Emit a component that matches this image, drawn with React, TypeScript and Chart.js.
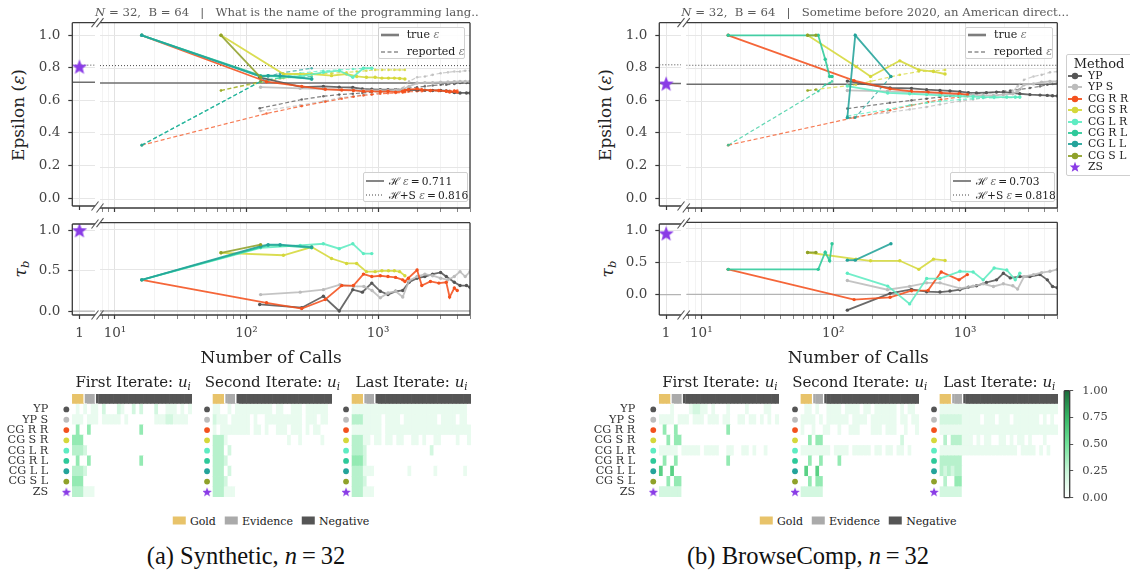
import React, { useEffect, useRef } from 'react';
import { Chart, registerables } from 'chart.js';

Chart.register(...registerables);

const SERIF = '"DejaVu Serif", "Liberation Serif", serif';
const CAPTION_SERIF = '"Liberation Serif", "Times New Roman", serif';
const INK = '#3a3a3a';
const TICK_INK = '#444444';

// ---------- methods ----------
const methodNames = ['YP', 'YP S', 'CG R R', 'CG S R', 'CG L R', 'CG R L', 'CG L L', 'CG S L', 'ZS'];
const methodColors = ['#555555', '#bcbcbc', '#f4511e', '#d5d83a', '#5eecc2', '#2ec99a', '#23a39a', '#8fa12a', '#8a3ce6'];

// ---------- axes ----------
const epsRange = [-0.0486, 1.0765];
const epsTicks = [0, 0.2, 0.4, 0.6, 0.8, 1.0];
const tauTicks = [0, 0.5, 1.0];
const synTauRange = [-0.049, 1.077];
const browseTauRange = [-0.314, 1.095];
const zsCallRange = [0.7, 1.65];
const zsCalls = [1];
const callRange = [7.7, 5000];
const callTicks = [8, 9, 10, 20, 30, 40, 50, 60, 70, 80, 90, 100, 200, 300, 400, 500, 600, 700, 800, 900, 1000, 2000, 3000, 4000, 5000];
const decadeLabels: Record<number, string> = { 10: '10\u00b9', 100: '10\u00b2', 1000: '10\u00b3' };

// ---------- (a) Synthetic ----------
const synHLines = [0.711, 0.816];
const synZsEps = 0.807;
const synZsTau = 1.0;

const synCallsYP = [126, 263, 384, 507, 643, 760, 896, 1040, 1190, 1360, 1540, 1720, 1980, 2270, 2600, 2990, 3300, 3800, 4200, 4700, 5000];
const synTrueYP = [0.745, 0.685, 0.69, 0.685, 0.683, 0.675, 0.672, 0.67, 0.67, 0.67, 0.67, 0.668, 0.668, 0.667, 0.665, 0.665, 0.662, 0.652, 0.65, 0.65, 0.65];
const synRepYP = [0.557, 0.61, 0.63, 0.64, 0.645, 0.65, 0.655, 0.66, 0.665, 0.67, 0.675, 0.68, 0.685, 0.69, 0.695, 0.7, 0.7, 0.705, 0.71, 0.71, 0.71];
const synTauYP = [0.08, 0.04, 0.18, 0.0, 0.26, 0.23, 0.34, 0.24, 0.2, 0.24, 0.25, 0.35, 0.4, 0.42, 0.45, 0.47, 0.42, 0.35, 0.31, 0.31, 0.29];

const synCallsYPS = [128, 256, 384, 514, 650, 780, 900, 1040, 1190, 1360, 1540, 1720, 1980, 2270, 2600, 2990, 3400, 3800, 4200, 4600, 5000];
const synTrueYPS = [0.685, 0.678, 0.675, 0.67, 0.668, 0.665, 0.665, 0.665, 0.665, 0.668, 0.672, 0.69, 0.71, 0.712, 0.712, 0.715, 0.716, 0.718, 0.72, 0.72, 0.72];
const synRepYPS = [0.54, 0.575, 0.6, 0.62, 0.63, 0.64, 0.645, 0.65, 0.66, 0.67, 0.68, 0.72, 0.745, 0.75, 0.76, 0.77, 0.775, 0.78, 0.78, 0.785, 0.785];
const synTauYPS = [0.2, 0.23, 0.26, 0.32, 0.3, 0.3, 0.25, 0.16, 0.22, 0.24, 0.17, 0.37, 0.42, 0.45, 0.43, 0.4, 0.38, 0.42, 0.48, 0.42, 0.48];

const synCallsRR = [16, 142, 263, 397, 530, 650, 775, 896, 1040, 1190, 1360, 1540, 1600, 1700, 1980, 2150, 2500, 2900, 3300, 3500, 3800, 4000];
const synTrueRR = [1.0, 0.718, 0.69, 0.672, 0.668, 0.665, 0.66, 0.66, 0.658, 0.66, 0.655, 0.66, 0.665, 0.67, 0.675, 0.67, 0.665, 0.665, 0.66, 0.655, 0.66, 0.655];
const synRepRR = [0.333, 0.525, 0.57, 0.597, 0.615, 0.627, 0.635, 0.64, 0.645, 0.648, 0.65, 0.652, 0.655, 0.657, 0.66, 0.66, 0.662, 0.662, 0.663, 0.663, 0.664, 0.664];
const synTauRR = [0.38, 0.1, 0.03, 0.14, 0.31, 0.31, 0.45, 0.42, 0.43, 0.42, 0.41, 0.38, 0.36, 0.4, 0.5, 0.31, 0.36, 0.34, 0.35, 0.17, 0.28, 0.25];

const synCallsSR = [64, 191, 313, 443, 576, 688, 816, 950, 1070, 1200, 1330, 1460, 1600];
const synTrueSR = [1.0, 0.765, 0.765, 0.755, 0.765, 0.75, 0.745, 0.745, 0.74, 0.74, 0.74, 0.738, 0.735];
const synRepSR = [0.665, 0.74, 0.765, 0.77, 0.775, 0.78, 0.785, 0.79, 0.79, 0.79, 0.79, 0.79, 0.79];
const synTauSR = [0.71, 0.68, 0.78, 0.64, 0.58, 0.58, 0.48, 0.48, 0.49, 0.49, 0.49, 0.48, 0.43];

const synCallsLR = [16, 128, 256, 384, 507, 643, 774, 896];
const synTrueLR = [1.0, 0.75, 0.75, 0.775, 0.785, 0.745, 0.8, 0.8];
const synRepLR = [0.333, 0.72, 0.77, 0.785, 0.79, 0.795, 0.8, 0.8];
const synTauLR = [0.38, 0.77, 0.8, 0.82, 0.76, 0.82, 0.7, 0.7];

const synCallsRL = [16, 128, 146, 180, 313];
const synTrueRL = [1.0, 0.755, 0.755, 0.75, 0.735];
const synRepRL = [0.333, 0.72, 0.73, 0.74, 0.75];
const synTauRL = [0.38, 0.78, 0.8, 0.8, 0.77];

const synCallsLL = [16, 128, 146, 180, 313];
const synTrueLL = [1.0, 0.75, 0.755, 0.755, 0.735];
const synRepLL = [0.333, 0.72, 0.75, 0.77, 0.8];
const synTauLL = [0.38, 0.79, 0.81, 0.81, 0.78];

const synCallsSL = [64, 128];
const synTrueSL = [1.0, 0.745];
const synRepSL = [0.665, 0.72];
const synTauSL = [0.71, 0.81];

// ---------- (b) BrowseComp ----------
const browseHLines = [0.703, 0.818];
const browseZsEps = 0.703;
const browseZsTau = 0.95;

const brCallsYP = [128, 270, 392, 511, 645, 768, 914, 1060, 1220, 1450, 1730, 1950, 2200, 2600, 3100, 3700, 4200, 4600, 5000];
const brTrueYP = [0.722, 0.68, 0.678, 0.67, 0.665, 0.662, 0.658, 0.652, 0.65, 0.652, 0.655, 0.655, 0.652, 0.645, 0.64, 0.637, 0.635, 0.633, 0.632];
const brRepYP = [0.555, 0.59, 0.605, 0.615, 0.625, 0.632, 0.638, 0.64, 0.645, 0.65, 0.655, 0.66, 0.665, 0.672, 0.68, 0.69, 0.7, 0.705, 0.71];
const brTauYP = [-0.24, 0.015, 0.075, 0.04, 0.035, 0.05, 0.07, 0.11, 0.13, 0.18, 0.22, 0.32, 0.25, 0.27, 0.27, 0.3, 0.22, 0.12, 0.1];

const brCallsYPS = [128, 258, 380, 511, 645, 914, 1150, 1370, 1640, 1950, 2300, 2500, 2800, 3300, 3800, 4400, 5000];
const brTrueYPS = [0.665, 0.66, 0.655, 0.65, 0.645, 0.64, 0.638, 0.635, 0.635, 0.64, 0.645, 0.66, 0.7, 0.705, 0.715, 0.72, 0.72];
const brRepYPS = [0.5, 0.53, 0.55, 0.565, 0.58, 0.6, 0.61, 0.62, 0.63, 0.645, 0.66, 0.69, 0.73, 0.75, 0.76, 0.775, 0.78];
const brTauYPS = [0.21, 0.07, 0.12, 0.175, 0.175, 0.09, 0.125, 0.16, 0.12, 0.16, 0.13, 0.08, 0.27, 0.3, 0.33, 0.35, 0.38];

const brCallsRR = [16, 144, 270, 392, 524, 659, 900, 1040];
const brTrueRR = [1.0, 0.725, 0.675, 0.66, 0.655, 0.65, 0.645, 0.64];
const brRepRR = [0.333, 0.5, 0.545, 0.575, 0.595, 0.61, 0.625, 0.63];
const brTauRR = [0.38, -0.08, -0.045, 0.055, 0.06, 0.34, 0.22, 0.3];

const brCallsSR = [64, 149, 192, 320, 446, 576, 705];
const brTrueSR = [1.0, 0.81, 0.75, 0.845, 0.79, 0.78, 0.765];
const brRepSR = [0.665, 0.7, 0.72, 0.76, 0.78, 0.785, 0.79];
const brTauSR = [0.636, 0.535, 0.51, 0.51, 0.38, 0.535, 0.515];

const brCallsLR = [128, 259, 380, 511, 645, 914, 1150, 1370, 1660, 2070, 2400, 2600];
const brTrueLR = [0.692, 0.65, 0.645, 0.64, 0.635, 0.63, 0.628, 0.625, 0.625, 0.625, 0.625, 0.625];
const brRepLR = [0.51, 0.55, 0.575, 0.59, 0.6, 0.61, 0.615, 0.62, 0.62, 0.622, 0.622, 0.623];
const brTauLR = [0.32, 0.125, -0.145, 0.24, 0.24, 0.35, 0.34, 0.22, 0.4, 0.37, 0.22, 0.32];

const brCallsRL = [16, 77, 87, 94, 98];
const brTrueRL = [1.0, 1.0, 0.855, 0.75, 0.75];
const brRepRL = [0.333, 0.66, 0.7, 0.71, 0.72];
const brTauRL = [0.38, 0.38, 0.64, 0.51, 0.77];

const brCallsLL = [128, 147, 274];
const brTrueLL = [0.5, 1.0, 0.75];
const brRepLL = [0.5, 0.5, 0.75];
const brTauLL = [0.52, 0.52, 0.77];

const brCallsSL = [64, 74];
const brTrueSL = [1.0, 1.0];
const brRepSL = [0.665, 0.67];
const brTauSL = [0.636, 0.636];

// ---------- document relevance heatmaps (one digit per document, tenths) ----------
const docGroupNames = ['Gold', 'Evidence', 'Negative'];
const docGroupSizes = [3, 3, 26];
const docGroupColors = ['#e8c36a', '#aaaaaa', '#555555'];

const synFirst = [
  '01010110 20002100 20200020 01110101',
  '11101110 11111010 00000011 12211110',
  '04004000 00000000 00400000 00000000',
  '44400000 00000000 00000000 00000000',
  '33320000 00000000 00000000 00000000',
  '04004000 00000000 00400000 00000000',
  '33320000 00000000 00000000 00000000',
  '44400000 00000000 00000000 00000000',
  '33311100 00000000 00000000 00000000',
];
const synSecond = [
  '11001011 11111111 01100111 01111110',
  '21110111 11010011 11111111 01110110',
  '10111111 11011010 01110111 01011000',
  '33310000 00000000 00001001 00000100',
  '33302000 00000000 00000000 00000000',
  '33320000 00000000 00000000 00000000',
  '33302000 00000000 00000000 00000000',
  '33320000 00000000 00000000 00000000',
  '33311100 00000000 00000000 00000000',
];
const synLast = [
  '11111111 11111111 11111111 11111110',
  '33311111 01111011 11111110 11110110',
  '11111111 01111111 11111111 11111111',
  '33311011 01101100 11010011 00001001',
  '33320000 00000000 00000200 00000000',
  '44420000 00000000 00000000 00000000',
  '33311100 00000001 00000010 00000010',
  '33320000 00000000 00000000 00000000',
  '33311100 00000000 00000000 00000000',
];
const browseFirst = [
  '00010000 12211010 00100001 00001100',
  '11110111 01110111 01100110 11010101',
  '04004000 00000000 00400000 00000000',
  '00404400 00000000 00000000 00000000',
  '11111011 11101111 00110011 01001000',
  '04004000 00000000 00400000 00000000',
  '60060000 00000000 00000000 00000000',
  '00404400 00000000 00000000 00000000',
  '22222200 00000000 00000000 00000000',
];
const browseSecond = [
  '01101001 11101111 01101111 11010110',
  '11110101 11111011 11011111 11011011',
  '10010011 00100111 00011101 11001001',
  '00404400 00000000 00000000 00020000',
  '11111111 01111011 11101101 10110100',
  '00400400 00400000 00000000 00000000',
  '06006000 00000000 00000000 00000000',
  '00404400 00000000 00000000 00000000',
  '22222200 00000000 00000000 00000000',
];
const browseLast = [
  '11111111 11111111 11111111 11111111',
  '22222211 11101110 11101111 11101010',
  '11111111 11111111 11111111 11111111',
  '03033311 10101100 11010110 10001000',
  '11111111 11111111 11111011 11010100',
  '33333300 00000000 00000000 00000000',
  '32323300 00000000 00000000 00000000',
  '03004400 00000000 00000000 00000000',
  '22222200 00000000 00000000 00000000',
];
const heatTitles = ['First Iterate: ', 'Second Iterate: ', 'Last Iterate: '];

// colour scale for relevance
const cmapStops = [0, 0.25, 0.5, 0.75, 1];
const cmapColors = ['#ffffff', '#c8f5d8', '#72e39a', '#36b665', '#1a6b3a'];
const cbarTicks = [0, 0.25, 0.5, 0.75, 1];

// heatmap axis settings
const heatColRange = [-3.2, 31.5];
const heatRowRange = [-1.5, 8.5];
const headerSpan = [-1.5, -0.58];
const markerCol = -2.11;

// ---------- series bundles ----------
type Series = { m: number; calls: number[]; eps: number[]; rep: number[]; tau: number[] };
const synSeries: Series[] = [
  { m: 0, calls: synCallsYP, eps: synTrueYP, rep: synRepYP, tau: synTauYP },
  { m: 1, calls: synCallsYPS, eps: synTrueYPS, rep: synRepYPS, tau: synTauYPS },
  { m: 2, calls: synCallsRR, eps: synTrueRR, rep: synRepRR, tau: synTauRR },
  { m: 3, calls: synCallsSR, eps: synTrueSR, rep: synRepSR, tau: synTauSR },
  { m: 4, calls: synCallsLR, eps: synTrueLR, rep: synRepLR, tau: synTauLR },
  { m: 5, calls: synCallsRL, eps: synTrueRL, rep: synRepRL, tau: synTauRL },
  { m: 6, calls: synCallsLL, eps: synTrueLL, rep: synRepLL, tau: synTauLL },
  { m: 7, calls: synCallsSL, eps: synTrueSL, rep: synRepSL, tau: synTauSL },
];
const browseSeries: Series[] = [
  { m: 0, calls: brCallsYP, eps: brTrueYP, rep: brRepYP, tau: brTauYP },
  { m: 1, calls: brCallsYPS, eps: brTrueYPS, rep: brRepYPS, tau: brTauYPS },
  { m: 2, calls: brCallsRR, eps: brTrueRR, rep: brRepRR, tau: brTauRR },
  { m: 3, calls: brCallsSR, eps: brTrueSR, rep: brRepSR, tau: brTauSR },
  { m: 4, calls: brCallsLR, eps: brTrueLR, rep: brRepLR, tau: brTauLR },
  { m: 5, calls: brCallsRL, eps: brTrueRL, rep: brRepRL, tau: brTauRL },
  { m: 6, calls: brCallsLL, eps: brTrueLL, rep: brRepLL, tau: brTauLL },
  { m: 7, calls: brCallsSL, eps: brTrueSL, rep: brRepSL, tau: brTauSL },
];

// ---------- helpers ----------
function rgba(hex: string, a: number) {
  const n = parseInt(hex.slice(1), 16);
  return `rgba(${(n >> 16) & 255},${(n >> 8) & 255},${n & 255},${a})`;
}

function colormap(v: number) {
  const t = Math.max(0, Math.min(1, v));
  let i = 0;
  while (i < cmapStops.length - 2 && t > cmapStops[i + 1]) i++;
  const f = (t - cmapStops[i]) / (cmapStops[i + 1] - cmapStops[i]);
  const a = parseInt(cmapColors[i].slice(1), 16);
  const b = parseInt(cmapColors[i + 1].slice(1), 16);
  const ch = (s: number) => Math.round(((a >> s) & 255) * (1 - f) + ((b >> s) & 255) * f);
  return `rgb(${ch(16)},${ch(8)},${ch(0)})`;
}

function makeStar(size: number, color: string) {
  const c = document.createElement('canvas');
  c.width = size;
  c.height = size;
  const g = c.getContext('2d') as CanvasRenderingContext2D;
  const cx = size / 2;
  const cy = size / 2 + size * 0.05;
  const R = size / 2;
  const r = R * 0.42;
  g.beginPath();
  for (let i = 0; i < 10; i++) {
    const a = -Math.PI / 2 + (i * Math.PI) / 5;
    const rad = i % 2 === 0 ? R : r;
    g.lineTo(cx + rad * Math.cos(a), cy + rad * Math.sin(a));
  }
  g.closePath();
  g.fillStyle = color;
  g.fill();
  return c;
}

function starPoints(cx: number, cy: number, R: number) {
  const pts: string[] = [];
  for (let i = 0; i < 10; i++) {
    const a = -Math.PI / 2 + (i * Math.PI) / 5;
    const rad = i % 2 === 0 ? R : R * 0.42;
    pts.push(`${(cx + rad * Math.cos(a)).toFixed(2)},${(cy + rad * Math.sin(a)).toFixed(2)}`);
  }
  return pts.join(' ');
}

type Area = { L: number; T: number; R: number; B: number };
type Margins = { l: number; t: number; r: number; b: number };

function place(area: Area, m: Margins, yW: number, xH: number, yRight = false) {
  const left = Math.floor(area.L - m.l);
  const top = Math.floor(area.T - m.t);
  const width = Math.ceil(area.R + m.r) - left;
  const height = Math.ceil(area.B + m.b) - top;
  const padding = {
    left: area.L - left - (yRight ? 0 : yW),
    top: area.T - top,
    right: left + width - area.R - (yRight ? yW : 0),
    bottom: top + height - area.B - xH,
  };
  return { box: { left, top, width, height }, padding };
}

function baseOptions(padding: any) {
  return {
    animation: false,
    responsive: false,
    maintainAspectRatio: false,
    events: [],
    layout: { padding },
    plugins: { legend: { display: false }, tooltip: { enabled: false }, title: { display: false } },
  };
}

function framePlugin(sides: string, brk: string) {
  return {
    id: 'frame',
    afterDraw(chart: any) {
      const { ctx, chartArea: a } = chart;
      ctx.save();
      ctx.strokeStyle = INK;
      ctx.lineWidth = 1.3;
      ctx.beginPath();
      if (sides.includes('t')) { ctx.moveTo(a.left, a.top); ctx.lineTo(a.right, a.top); }
      if (sides.includes('b')) { ctx.moveTo(a.left, a.bottom); ctx.lineTo(a.right, a.bottom); }
      if (sides.includes('l')) { ctx.moveTo(a.left, a.top); ctx.lineTo(a.left, a.bottom); }
      if (sides.includes('r')) { ctx.moveTo(a.right, a.top); ctx.lineTo(a.right, a.bottom); }
      ctx.stroke();
      if (brk) {
        const x = brk === 'l' ? a.left : a.right;
        ctx.lineWidth = 1.1;
        ctx.strokeStyle = '#555';
        ctx.beginPath();
        for (const y of [a.top, a.bottom]) {
          ctx.moveTo(x - 3.5, y + 4.5);
          ctx.lineTo(x + 3.5, y - 4.5);
        }
        ctx.stroke();
      }
      ctx.restore();
    },
  };
}

const tickFont = { family: SERIF, size: 13.5 };

function callAxis(showLabels: boolean, xH: number) {
  const isDecade = (c: any) => decadeLabels[c.tick?.value] !== undefined;
  return {
    type: 'logarithmic',
    min: callRange[0],
    max: callRange[1],
    bounds: 'data',
    afterBuildTicks: (s: any) => { s.ticks = callTicks.map((v) => ({ value: v })); },
    afterFit: (s: any) => { s.height = xH; s.paddingLeft = 0; s.paddingRight = 0; },
    ticks: {
      display: showLabels, autoSkip: false, maxRotation: 0, minRotation: 0, padding: 6,
      font: tickFont, color: TICK_INK,
      callback: (v: number) => decadeLabels[v] ?? '',
    },
    grid: {
      color: (c: any) => (isDecade(c) ? '#e2e2e2' : '#f3f3f3'),
      lineWidth: 1,
      drawTicks: true,
      tickLength: 4,
      tickColor: (c: any) => (isDecade(c) ? INK : '#666'),
      tickWidth: (c: any) => (isDecade(c) ? 1.2 : 0.8),
    },
    border: { display: false },
  };
}

function zsAxis(showLabels: boolean, xH: number) {
  return {
    type: 'linear',
    min: zsCallRange[0],
    max: zsCallRange[1],
    bounds: 'data',
    afterBuildTicks: (s: any) => { s.ticks = zsCalls.map((v) => ({ value: v })); },
    afterFit: (s: any) => { s.height = xH; s.paddingLeft = 0; s.paddingRight = 0; },
    ticks: { display: showLabels, autoSkip: false, padding: 6, font: tickFont, color: TICK_INK, callback: (v: number) => String(v) },
    grid: { color: '#e6e6e6', lineWidth: 1, drawTicks: true, tickLength: 4, tickColor: INK, tickWidth: 1.2 },
    border: { display: false },
  };
}

function valueAxis(range: number[], ticks: number[], labelled: boolean, yW: number) {
  return {
    type: 'linear',
    min: range[0],
    max: range[1],
    bounds: 'data',
    afterBuildTicks: (s: any) => { s.ticks = ticks.map((v) => ({ value: v })); },
    afterFit: (s: any) => { s.width = yW; s.paddingTop = 0; s.paddingBottom = 0; },
    ticks: { display: labelled, autoSkip: false, padding: 8, font: tickFont, color: TICK_INK, callback: (v: number) => v.toFixed(1) },
    grid: { color: '#e6e6e6', lineWidth: 1, drawTicks: labelled, tickLength: 4, tickColor: INK, tickWidth: 1.2 },
    border: { display: false },
  };
}

function pts(xs: number[], ys: number[]) {
  return xs.map((x, i) => ({ x, y: ys[i] }));
}

function refLine(range: number[], y: number, color: string, width: number, dash: number[]) {
  return { data: [{ x: range[0], y }, { x: range[1], y }], borderColor: color, borderWidth: width, borderDash: dash, pointRadius: 0, order: 60 };
}

function methodDatasets(series: Series[], kind: 'eps' | 'tau') {
  const out: any[] = [];
  series.forEach((s) => {
    const c = methodColors[s.m];
    out.push({
      data: pts(s.calls, kind === 'eps' ? s.eps : s.tau),
      borderColor: rgba(c, 0.88), backgroundColor: c, borderWidth: 1.8, tension: 0,
      pointRadius: 1.7, pointBackgroundColor: c, pointBorderWidth: 0, order: 20 - s.m,
    });
    if (kind === 'eps') {
      out.push({
        data: pts(s.calls, s.rep),
        borderColor: rgba(c, 0.75), backgroundColor: c, borderWidth: 1.2, borderDash: [4, 2.5], tension: 0,
        pointRadius: 1.3, pointBackgroundColor: rgba(c, 0.8), pointBorderWidth: 0, order: 40 - s.m,
      });
    }
  });
  return out;
}

const H_SOLID = '#6e6e6e';
const H_DOT = '#4a4a4a';
const ZERO_LINE = '#b4b4b4';

// ---------- canvas wrapper ----------
function ChartCanvas({ box, config }: { box: any; config: () => any }) {
  const ref = useRef<HTMLCanvasElement | null>(null);
  useEffect(() => {
    const chart = new Chart(ref.current as HTMLCanvasElement, config());
    return () => chart.destroy();
  }, []);
  return (
    <canvas
      ref={ref}
      width={box.width}
      height={box.height}
      style={{ position: 'absolute', left: box.left, top: box.top, width: box.width, height: box.height }}
    />
  );
}

// ---------- text helpers ----------
function Txt({ x, y, size, children, anchor = 'left', color = '#222', family = SERIF, rotate = 0 }: any) {
  const tx = anchor === 'center' ? '-50%' : anchor === 'right' ? '-100%' : '0';
  return (
    <div
      style={{
        position: 'absolute', left: x, top: y, whiteSpace: 'pre', fontFamily: family, fontSize: size,
        lineHeight: 1, color, transform: `translate(${tx}, -50%) rotate(${rotate}deg)`,
      }}
    >
      {children}
    </div>
  );
}

const Sub = ({ children }: any) => (
  <span style={{ fontSize: '0.68em', fontStyle: 'italic', position: 'relative', top: '0.3em' }}>{children}</span>
);

function KeyLine({ color, width, dash }: any) {
  return (
    <svg width={18} height={8} style={{ display: 'block' }}>
      <line x1={0} y1={4} x2={18} y2={4} stroke={color} strokeWidth={width} strokeDasharray={dash} />
    </svg>
  );
}

// ---------- heatmap ----------
function heatConfig(matrix: string[], labelled: boolean, padding: any, yW: number) {
  const cells: any[] = [];
  const cellColors: string[] = [];
  matrix.forEach((row, r) => {
    row.replace(/\s/g, '').split('').forEach((ch, c) => {
      cells.push({ x: c, y: [r - 0.5, r + 0.5] });
      cellColors.push(colormap(Number(ch) / 10));
    });
  });
  const header: any[] = [];
  const headerColors: string[] = [];
  const groupStarts: number[] = [];
  let col = 0;
  docGroupSizes.forEach((n, g) => {
    if (g > 0) groupStarts.push(col);
    for (let k = 0; k < n; k++) {
      header.push({ x: col++, y: headerSpan });
      headerColors.push(docGroupColors[g]);
    }
  });
  const smallStar = makeStar(10, methodColors[8]);
  return {
    type: 'bar',
    data: {
      datasets: [
        {
          type: 'scatter',
          data: methodNames.map((_, r) => ({ x: markerCol, y: r })),
          pointStyle: methodNames.map((_, r) => (r === 8 ? smallStar : 'circle')),
          pointRadius: 2.9,
          pointBackgroundColor: methodColors,
          pointBorderWidth: 0,
        },
        {
          data: header,
          backgroundColor: headerColors,
          borderColor: '#ffffff',
          borderWidth: (c: any) => (groupStarts.includes(c.dataIndex) ? { left: 1.5, right: 0, top: 0, bottom: 0 } : 0),
          borderSkipped: false,
          grouped: false,
          barPercentage: 1,
          categoryPercentage: 1,
        },
        {
          data: cells,
          backgroundColor: cellColors,
          borderWidth: 0,
          grouped: false,
          barPercentage: 1,
          categoryPercentage: 1,
        },
      ],
    },
    options: {
      ...baseOptions(padding),
      scales: {
        x: { type: 'linear', min: heatColRange[0], max: heatColRange[1], offset: false, display: false, bounds: 'data' },
        y: {
          type: 'linear', reverse: true, min: heatRowRange[0], max: heatRowRange[1], offset: false, bounds: 'data',
          display: labelled,
          afterBuildTicks: (s: any) => { s.ticks = methodNames.map((_, i) => ({ value: i })); },
          afterFit: (s: any) => { s.width = yW; s.paddingTop = 0; s.paddingBottom = 0; },
          ticks: {
            autoSkip: false, padding: 14, font: { family: SERIF, size: 11.2 }, color: '#333',
            callback: (v: number) => methodNames[v] ?? '',
          },
          grid: { display: false, drawTicks: false },
          border: { display: false },
        },
      },
    },
  };
}

// ---------- panel ----------
type Geo = {
  starL: number; starR: number; mainL: number; mainR: number;
  epsT: number; epsB: number; tauT: number; tauB: number;
  heatLefts: number[]; cellW: number;
};

const synGeo: Geo = { starL: 72.3, starR: 96.5, mainL: 100, mainR: 470, epsT: 22.7, epsB: 208, tauT: 222.7, tauB: 315, heatLefts: [72.5, 211.8, 351], cellW: 3.79 };
const browseGeo: Geo = { starL: 659.3, starR: 683, mainL: 686.3, mainR: 1057.3, epsT: 22.7, epsB: 208, tauT: 222.3, tauB: 315, heatLefts: [659.4, 799.3, 938.9], cellW: 3.78 };

const HEAT_T = 392.7;
const HEAT_ROW_H = 10.55;

function Panel({ geo, series, hlines, zsEps, zsTau, tauRange, question, heats }: any) {
  const epsStar = place({ L: geo.starL, T: geo.epsT, R: geo.starR, B: geo.epsB }, { l: 40, t: 10, r: 7, b: 7 }, 40, 7);
  const epsMain = place({ L: geo.mainL, T: geo.epsT, R: geo.mainR, B: geo.epsB }, { l: 7, t: 10, r: 4, b: 7 }, 0, 7);
  const tauStar = place({ L: geo.starL, T: geo.tauT, R: geo.starR, B: geo.tauB }, { l: 40, t: 7, r: 7, b: 30 }, 40, 30);
  const tauMain = place({ L: geo.mainL, T: geo.tauT, R: geo.mainR, B: geo.tauB }, { l: 7, t: 7, r: 14, b: 30 }, 0, 30);
  const midX = (geo.starL + geo.mainR) / 2;

  const zsStarImg = () => makeStar(16, methodColors[8]);

  const epsStarCfg = () => ({
    type: 'line',
    data: {
      datasets: [
        { data: zsCalls.map((x) => ({ x, y: zsEps })), showLine: false, pointStyle: zsStarImg(), pointRadius: 8, order: 0 },
        refLine(zsCallRange, hlines[0], H_SOLID, 1.5, []),
        refLine(zsCallRange, hlines[1], H_DOT, 1, [1, 2]),
      ],
    },
    options: { ...baseOptions(epsStar.padding), scales: { x: zsAxis(false, 7), y: valueAxis(epsRange, epsTicks, true, 40) } },
    plugins: [framePlugin('ltb', 'r')],
  });

  const epsMainCfg = () => ({
    type: 'line',
    data: {
      datasets: [
        ...methodDatasets(series, 'eps'),
        refLine(callRange, hlines[0], H_SOLID, 1.5, []),
        refLine(callRange, hlines[1], H_DOT, 1, [1, 2]),
      ],
    },
    options: { ...baseOptions(epsMain.padding), scales: { x: callAxis(false, 7), y: valueAxis(epsRange, epsTicks, false, 0) } },
    plugins: [framePlugin('trb', 'l')],
  });

  const tauStarCfg = () => ({
    type: 'line',
    data: {
      datasets: [
        { data: zsCalls.map((x) => ({ x, y: zsTau })), showLine: false, pointStyle: zsStarImg(), pointRadius: 8, order: 0 },
        refLine(zsCallRange, 0, ZERO_LINE, 1.3, []),
      ],
    },
    options: { ...baseOptions(tauStar.padding), scales: { x: zsAxis(true, 30), y: valueAxis(tauRange, tauTicks, true, 40) } },
    plugins: [framePlugin('ltb', 'r')],
  });

  const tauMainCfg = () => ({
    type: 'line',
    data: { datasets: [...methodDatasets(series, 'tau'), refLine(callRange, 0, ZERO_LINE, 1.3, [])] },
    options: { ...baseOptions(tauMain.padding), scales: { x: callAxis(true, 30), y: valueAxis(tauRange, tauTicks, false, 0) } },
    plugins: [framePlugin('trb', 'l')],
  });

  const heatBoxes = geo.heatLefts.map((hl: number, k: number) => {
    const area = {
      L: hl + (heatColRange[0] + 0.5) * geo.cellW,
      T: HEAT_T,
      R: hl + (heatColRange[1] + 0.5) * geo.cellW,
      B: HEAT_T + (heatRowRange[1] - heatRowRange[0]) * HEAT_ROW_H,
    };
    return k === 0 ? place(area, { l: 62, t: 2, r: 2, b: 2 }, 62, 0) : place(area, { l: 2, t: 2, r: 2, b: 2 }, 0, 0);
  });

  const keyBoxStyle: any = {
    position: 'absolute', border: '1px solid #d0d0d0', borderRadius: 2, background: 'rgba(255,255,255,0.85)',
    boxSizing: 'border-box', fontFamily: SERIF, fontSize: 11, color: '#222',
  };
  const keyRow = (top: number, line: any, text: any, textLeft: number) => (
    <div style={{ position: 'absolute', left: 2, top: top - 4, height: 8, width: '100%' }}>
      <div style={{ position: 'absolute', left: 0, top: 0 }}>{line}</div>
      <div style={{ position: 'absolute', left: textLeft, top: -2, whiteSpace: 'pre', lineHeight: '12px' }}>{text}</div>
    </div>
  );

  return (
    <>
      <ChartCanvas box={epsStar.box} config={epsStarCfg} />
      <ChartCanvas box={epsMain.box} config={epsMainCfg} />
      <ChartCanvas box={tauStar.box} config={tauStarCfg} />
      <ChartCanvas box={tauMain.box} config={tauMainCfg} />
      {heats.map((mat: string[], k: number) => (
        <ChartCanvas key={k} box={heatBoxes[k].box} config={() => heatConfig(mat, k === 0, heatBoxes[k].padding, k === 0 ? 62 : 0)} />
      ))}

      <Txt x={geo.mainL - 5} y={12.7} size={11.7} color="#5a5a5a">
        <i>N</i>{' = 32,  B = 64   |   ' + question}
      </Txt>
      <Txt x={geo.starL - 54.5} y={(geo.epsT + geo.epsB) / 2} size={17} anchor="center" rotate={-90}>
        Epsilon (<i>ε</i>)
      </Txt>
      <Txt x={geo.starL - 52} y={(geo.tauT + geo.tauB) / 2} size={17} anchor="center" rotate={-90}>
        <i>τ</i><Sub>b</Sub>
      </Txt>
      <Txt x={midX} y={356.7} size={17} anchor="center">Number of Calls</Txt>

      <div style={{ ...keyBoxStyle, left: geo.mainR - 92.3, top: 26.7, width: 87.5, height: 32.6 }}>
        {keyRow(7.3, <KeyLine color="#7d7d7d" width={2.6} />, <span>true <i style={{ color: '#777' }}>ε</i></span>, 26)}
        {keyRow(24.3, <KeyLine color="#8d8d8d" width={1.5} dash="4 2.5" />, <span>reported <i style={{ color: '#777' }}>ε</i></span>, 26)}
      </div>
      <div style={{ ...keyBoxStyle, left: geo.mainR - 107.3, top: 172.3, width: 105.3, height: 29.4, fontSize: 10.6 }}>
        {keyRow(7.7, <KeyLine color="#444" width={1.3} />, <span>ℋ <i style={{ color: '#666' }}>ε</i>{`\u2009=\u2009${hlines[0].toFixed(3)}`}</span>, 23)}
        {keyRow(21.9, <KeyLine color="#444" width={1} dash="1 2" />, <span>ℋ+S <i style={{ color: '#666' }}>ε</i>{`\u2009=\u2009${hlines[1].toFixed(3)}`}</span>, 23)}
      </div>

      {geo.heatLefts.map((hl: number, k: number) => (
        <Txt key={k} x={hl + 16 * geo.cellW} y={381.7} size={15} anchor="center">
          {heatTitles[k]}<i>u</i><Sub>i</Sub>
        </Txt>
      ))}

      <div
        style={{
          position: 'absolute', left: midX, top: 520.7, transform: 'translate(-50%, -50%)', display: 'flex',
          alignItems: 'center', fontFamily: SERIF, fontSize: 11, color: '#222', whiteSpace: 'pre',
        }}
      >
        {docGroupNames.map((name, g) => (
          <div key={name} style={{ display: 'flex', alignItems: 'center', marginLeft: g === 0 ? 0 : 9 }}>
            <div style={{ width: 13, height: 8, background: docGroupColors[g], marginRight: 4 }} />
            <span>{name}</span>
          </div>
        ))}
      </div>
    </>
  );
}

// ---------- method legend ----------
function MethodLegend() {
  return (
    <div
      style={{
        position: 'absolute', left: 1066, top: 54, width: 80, height: 122, border: '1px solid #cfcfcf',
        borderRadius: 2, background: '#fff', boxSizing: 'border-box', fontFamily: SERIF, color: '#222',
      }}
    >
      <div style={{ position: 'absolute', left: 32, top: 8, transform: 'translate(-50%, -50%)', fontSize: 13, lineHeight: 1 }}>Method</div>
      {methodNames.map((name, i) => (
        <div key={name} style={{ position: 'absolute', left: 0, top: 20.7 + 11.45 * i - 5, height: 10, width: 80 }}>
          <svg width={16} height={10} style={{ position: 'absolute', left: 1, top: 0 }}>
            {i < 8 ? (
              <>
                <line x1={0} y1={5} x2={14} y2={5} stroke={methodColors[i]} strokeWidth={1.8} />
                <circle cx={7} cy={5} r={3.2} fill={methodColors[i]} />
              </>
            ) : (
              <polygon points={starPoints(7, 5.3, 5.6)} fill={methodColors[i]} />
            )}
          </svg>
          <div style={{ position: 'absolute', left: 21, top: 5, transform: 'translateY(-50%)', fontSize: 10.8, lineHeight: 1, whiteSpace: 'pre' }}>
            {name}
          </div>
        </div>
      ))}
    </div>
  );
}

// ---------- colour bar ----------
function Colorbar() {
  const yW = 40;
  const cb = place({ L: 1064.2, T: 390.7, R: 1069.7, B: 497.7 }, { l: 2, t: 8, r: yW, b: 8 }, yW, 0, true);
  const cfg = () => ({
    type: 'bar',
    data: {
      labels: [''],
      datasets: [
        {
          data: [[0, 1]],
          backgroundColor: (c: any) => {
            const a = c.chart.chartArea;
            if (!a) return '#ffffff';
            const g = c.chart.ctx.createLinearGradient(0, a.bottom, 0, a.top);
            cmapStops.forEach((s, i) => g.addColorStop(s, cmapColors[i]));
            return g;
          },
          borderWidth: 0,
          barPercentage: 1,
          categoryPercentage: 1,
        },
      ],
    },
    options: {
      ...baseOptions(cb.padding),
      scales: {
        x: { type: 'category', display: false, offset: true },
        y: {
          type: 'linear', position: 'right', min: 0, max: 1, bounds: 'data',
          afterBuildTicks: (s: any) => { s.ticks = cbarTicks.map((v) => ({ value: v })); },
          afterFit: (s: any) => { s.width = yW; s.paddingTop = 0; s.paddingBottom = 0; },
          ticks: { autoSkip: false, padding: 9, font: { family: SERIF, size: 11.5 }, color: TICK_INK, callback: (v: number) => v.toFixed(2) },
          grid: { drawOnChartArea: false, drawTicks: true, tickLength: 3.5, tickColor: '#555', tickWidth: 1 },
          border: { display: false },
        },
      },
    },
    plugins: [framePlugin('tblr', '')],
  });
  return <ChartCanvas box={cb.box} config={cfg} />;
}

// ---------- figure ----------
export default function App() {
  return (
    <div style={{ position: 'absolute', left: 0, top: 0, width: 1130, height: 579, overflow: 'hidden', background: '#ffffff' }}>
      <Panel
        geo={synGeo}
        series={synSeries}
        hlines={synHLines}
        zsEps={synZsEps}
        zsTau={synZsTau}
        tauRange={synTauRange}
        question="What is the name of the programming lang.."
        heats={[synFirst, synSecond, synLast]}
      />
      <Panel
        geo={browseGeo}
        series={browseSeries}
        hlines={browseHLines}
        zsEps={browseZsEps}
        zsTau={browseZsTau}
        tauRange={browseTauRange}
        question="Sometime before 2020, an American direct..."
        heats={[browseFirst, browseSecond, browseLast]}
      />
      <MethodLegend />
      <Colorbar />
      <Txt x={246} y={556} size={24.5} anchor="center" family={CAPTION_SERIF} color="#111">
        (a) Synthetic, <i>n</i>{'\u2009=\u200932'}
      </Txt>
      <Txt x={808} y={556} size={24.5} anchor="center" family={CAPTION_SERIF} color="#111">
        (b) BrowseComp, <i>n</i>{'\u2009=\u200932'}
      </Txt>
    </div>
  );
}
